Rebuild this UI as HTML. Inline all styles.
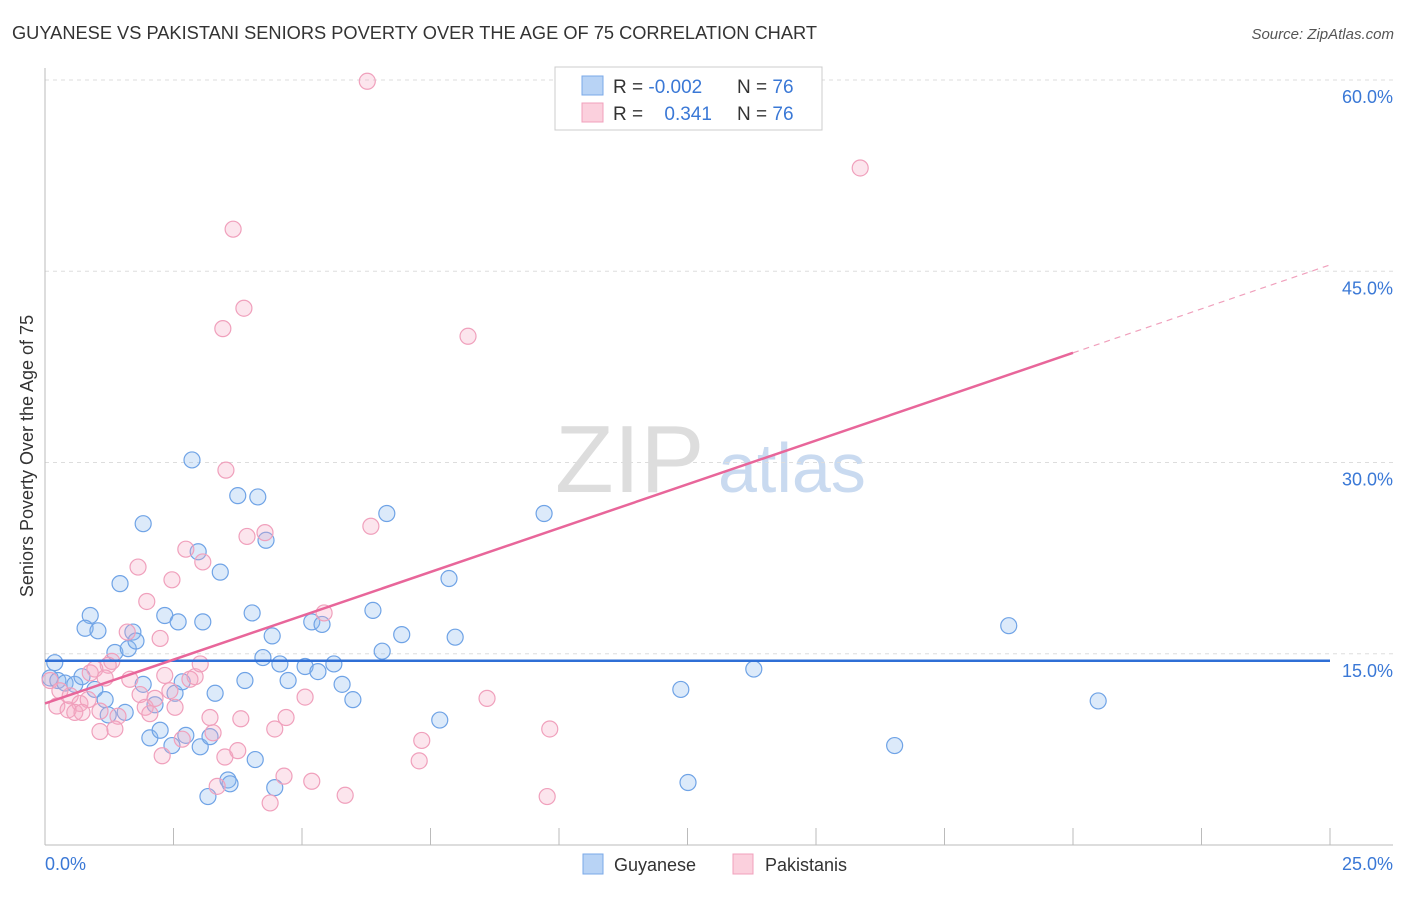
<!DOCTYPE html>
<html><head><meta charset="utf-8"><style>
body{margin:0;background:#fff;font-family:"Liberation Sans",sans-serif;}
svg text{font-family:"Liberation Sans",sans-serif;}
</style></head><body>
<svg id="chart" width="1406" height="892">
<text x="12" y="39" font-size="18" fill="#333" textLength="805" lengthAdjust="spacingAndGlyphs">GUYANESE VS PAKISTANI SENIORS POVERTY OVER THE AGE OF 75 CORRELATION CHART</text>
<text x="1394" y="39" font-size="15" fill="#555" font-style="italic" text-anchor="end">Source: ZipAtlas.com</text>
<text x="0" y="0" transform="translate(33,456) rotate(-90)" font-size="18" fill="#333" text-anchor="middle">Seniors Poverty Over the Age of 75</text>
<text x="555" y="492" font-size="96" fill="#ddd" font-family="Liberation Serif">ZIP</text>
<text x="718" y="492" font-size="70" fill="#c9daf0">atlas</text>
<g id="grid"></g><g id="axes"></g><g id="pts"></g><g id="lines"></g>
<g>
<rect x="555" y="67" width="267" height="63" fill="#fff" stroke="#ccc"/>
<rect x="582" y="76" width="21" height="19" fill="#b8d3f5" stroke="#7aa8e8"/>
<rect x="582" y="103" width="21" height="19" fill="#fbd0dd" stroke="#f0a0bc"/>
<text x="613" y="93" font-size="19" fill="#333">R = <tspan fill="#3a78d6">-0.002</tspan></text>
<text x="737" y="93" font-size="19" fill="#333">N = <tspan fill="#3a78d6">76</tspan></text>
<text x="613" y="120" font-size="19" fill="#333">R = <tspan fill="#3a78d6" dx="16">0.341</tspan></text>
<text x="737" y="120" font-size="19" fill="#333">N = <tspan fill="#3a78d6">76</tspan></text>
</g>
<g>
<rect x="583" y="854" width="20" height="20" fill="#b8d3f5" stroke="#7aa8e8"/>
<text x="614" y="871" font-size="18" fill="#333">Guyanese</text>
<rect x="733" y="854" width="20" height="20" fill="#fbd0dd" stroke="#f0a0bc"/>
<text x="765" y="871" font-size="18" fill="#333">Pakistanis</text>
</g>
</svg>
<script>
const yTicks=[15,30,45,60];
const xTickCount=10;
const blueX=[0.19,0.1,0.25,0.39,0.58,0.72,0.88,0.78,1.03,0.97,1.17,1.23,1.36,1.46,1.56,1.62,1.71,1.77,1.91,1.91,2.04,2.14,2.24,2.33,2.47,2.53,2.59,2.67,2.74,2.86,2.98,3.02,3.07,3.21,3.31,3.41,3.56,3.6,3.17,3.75,3.89,4.03,4.09,4.14,4.24,4.3,4.42,4.47,4.57,4.73,5.06,5.19,5.31,5.39,5.62,5.78,5.99,6.38,6.56,6.65,6.94,7.68,7.86,7.98,9.71,12.37,12.51,13.79,16.53,18.75,20.49];
const blueY=[14.3,13.1,12.9,12.7,12.6,13.2,18.0,17.0,16.8,12.2,11.4,10.2,15.1,20.5,10.4,15.4,16.7,16.0,25.2,12.6,8.4,11.0,9.0,18.0,7.8,11.9,17.5,12.8,8.6,30.2,23.0,7.7,17.5,8.5,11.9,21.4,5.1,4.8,3.8,27.4,12.9,18.2,6.7,27.3,14.7,23.9,16.4,4.5,14.2,12.9,14.0,17.5,13.6,17.3,14.2,12.6,11.4,18.4,15.2,26.0,16.5,9.8,20.9,16.3,26.0,12.2,4.9,13.8,7.8,17.2,11.3];
const pinkX=[6.27,15.86,3.66,3.87,3.46,8.23,3.52,6.34,4.28,3.93,2.74,3.07,1.81,2.47,1.98,5.43,2.24,1.6,1.3,1.23,0.97,0.88,0.1,0.29,0.49,0.68,0.84,1.07,0.23,0.45,0.58,0.72,1.17,1.42,1.65,1.85,1.95,2.04,2.14,2.33,2.43,2.53,2.67,2.82,2.92,3.02,3.21,3.27,3.35,3.5,3.75,3.81,4.38,4.47,4.65,4.69,5.06,5.19,5.84,7.28,7.33,8.6,9.82,9.77,1.07,1.36,2.28];
const pinkY=[59.9,53.1,48.3,42.1,40.5,39.9,29.4,25.0,24.5,24.2,23.2,22.2,21.8,20.8,19.1,18.2,16.2,16.7,14.4,14.1,13.8,13.5,12.9,12.1,11.7,11.1,11.4,10.5,10.9,10.6,10.4,10.4,13.1,10.1,13.0,11.8,10.8,10.3,11.5,13.3,12.1,10.8,8.3,13.0,13.2,14.2,10.0,8.8,4.6,6.9,7.4,9.9,3.3,9.1,5.4,10.0,11.6,5.0,3.9,6.6,8.2,11.5,9.1,3.8,8.9,9.1,7.0];
const blueFitY=[14.45,14.45];
const pinkFitY=[11.1,38.6,45.5];
const X0=45,X1=1330,Y0=845,YT=80;
const sx=v=>X0+(X1-X0)*v/25;
const sy=v=>Y0-(Y0-YT)*v/60;
const NS="http://www.w3.org/2000/svg";
function mk(tag,attrs,parent){const e=document.createElementNS(NS,tag);for(const k in attrs)e.setAttribute(k,attrs[k]);document.getElementById(parent).appendChild(e);return e;}
yTicks.forEach(t=>{
 const g=mk('line',{x1:X0,x2:1393,y1:sy(t),y2:sy(t),stroke:'#ddd','stroke-dasharray':'4,4'},'grid');
 
 
 const tx=mk('text',{x:1393,y:sy(t)+23,'font-size':18,fill:'#3a78d6','text-anchor':'end'},'grid');
 tx.textContent=t.toFixed(1)+'%';
 
 
});
const ax=mk('line',{x1:X0,x2:X0,y1:68,y2:Y0,stroke:'#bbb'},'axes');


const bx=mk('line',{x1:X0,x2:1393,y1:Y0,y2:Y0,stroke:'#bbb'},'axes');


for(let i=1;i<=xTickCount;i++){const v=25*i/xTickCount;
 const t=mk('line',{x1:sx(v),x2:sx(v),y1:828,y2:Y0,stroke:'#bbb'},'axes');
 
 }
const l0=mk('text',{x:45,y:870,'font-size':18,fill:'#3a78d6'},'axes');l0.textContent='0.0%';


const l1=mk('text',{x:1393,y:870,'font-size':18,fill:'#3a78d6','text-anchor':'end'},'axes');l1.textContent='25.0%';


blueX.forEach((x,i)=>{const c=mk('circle',{cx:sx(x),cy:sy(blueY[i]),r:8,fill:'rgba(140,185,240,0.3)',stroke:'#6fa3e6','stroke-width':1.2},'pts');
 
 });
pinkX.forEach((x,i)=>{const c=mk('circle',{cx:sx(x),cy:sy(pinkY[i]),r:8,fill:'rgba(245,170,195,0.3)',stroke:'#f0a0bc','stroke-width':1.2},'pts');
 
 });
const bl=mk('line',{x1:sx(0),x2:sx(25),y1:sy(blueFitY[0]),y2:sy(blueFitY[1]),stroke:'#2f6fd6','stroke-width':2.5},'lines');


const pl=mk('line',{x1:sx(0),x2:sx(20),y1:sy(pinkFitY[0]),y2:sy(pinkFitY[1]),stroke:'#e8669a','stroke-width':2.5},'lines');


const pd=mk('line',{x1:sx(20),x2:sx(25),y1:sy(pinkFitY[1]),y2:sy(pinkFitY[2]),stroke:'#f0a0bc','stroke-width':1.2,'stroke-dasharray':'6,5'},'lines');


</script>
</body></html>
